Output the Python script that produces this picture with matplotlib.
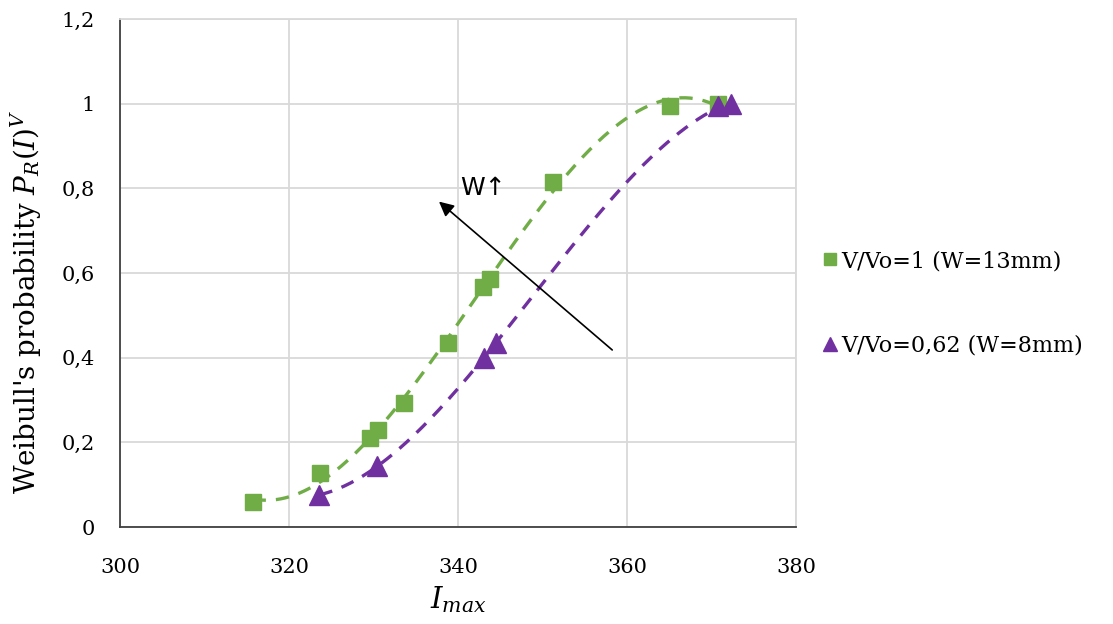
import numpy as np
import matplotlib
matplotlib.use("Agg")
import matplotlib.pyplot as plt
from matplotlib.ticker import FuncFormatter

# data
x_w13 = [315.7, 323.7, 329.6, 330.5, 333.6, 338.8, 343.0, 343.8, 351.2, 365.1, 370.8]
y_w13 = [0.059, 0.128, 0.21, 0.229, 0.293, 0.435, 0.567, 0.586, 0.816, 0.995, 1.0]

x_w8 = [323.6, 330.4, 343.1, 344.5, 370.8, 372.3]
y_w8 = [0.075, 0.145, 0.40, 0.435, 0.995, 1.0]

lab_w13 = "V/Vo=1 (W=13mm)"
lab_w8 = "V/Vo=0,62 (W=8mm)"

green = "#70AD47"
purple = "#7030A0"

plt.rcParams['font.family'] = ['DejaVu Serif']
plt.rcParams['mathtext.fontset'] = 'dejavuserif'

fig = plt.figure(figsize=(11.13, 6.24), dpi=100)
ax = fig.add_axes([0.1078, 0.1554, 0.6074, 0.8141])

# polynomial trendlines (like excel)
for xs, ys, c in [(x_w13, y_w13, green), (x_w8, y_w8, purple)]:
    p = np.polyfit(xs, ys, 3)
    xx = np.linspace(min(xs), max(xs), 200)
    ax.plot(xx, np.polyval(p, xx), '--', color=c, lw=2.4, dashes=(4, 3), zorder=2)

ax.plot(x_w13, y_w13, 's', color=green, ms=12, zorder=3)
ax.plot(x_w8, y_w8, '^', color=purple, ms=15, zorder=4)

ax.set_xlim(300, 380)
ax.set_ylim(0, 1.2)
ax.set_xticks([300, 320, 340, 360, 380])
ax.set_yticks([0, 0.2, 0.4, 0.6, 0.8, 1.0, 1.2])
ax.yaxis.set_major_formatter(FuncFormatter(lambda v, pos: ('%g' % round(v, 1)).replace('.', ',')))
ax.grid(True, color='#d9d9d9', lw=1.3)
ax.set_axisbelow(True)
ax.tick_params(length=0, labelsize=15)
ax.tick_params(axis='x', pad=22)
ax.tick_params(axis='y', pad=18)
for s in ['top', 'right']:
    ax.spines[s].set_color('#d9d9d9')
    ax.spines[s].set_linewidth(1.3)
for s in ['left', 'bottom']:
    ax.spines[s].set_color('#404040')
    ax.spines[s].set_linewidth(1.3)

ax.set_xlabel(r'$I_{max}$', fontsize=21)
ax.xaxis.set_label_coords(0.5, -0.112)
ax.set_ylabel(r"Weibull's probability $P_R(I)^V$", fontsize=20)
ax.yaxis.set_label_coords(-0.113, 0.443)

# arrow + label
ax.annotate('', xy=(337.5, 0.773), xytext=(358.5, 0.414),
            arrowprops=dict(arrowstyle='-|>', color='black', lw=1.2, mutation_scale=22))
ax.text(340.3, 0.80, 'W\u2191', fontsize=18, family=['DejaVu Sans'],
        ha='left', va='center')

h1 = plt.Line2D([], [], marker='s', color=green, ls='none', ms=9)
h2 = plt.Line2D([], [], marker='^', color=purple, ls='none', ms=10)
fig.legend([h1, h2], [lab_w13, lab_w8], loc='center left', bbox_to_anchor=(0.72, 0.514),
           frameon=False, fontsize=16, handletextpad=0.1, handlelength=0.8,
           labelspacing=2.8)

fig.savefig('out.png', dpi=100)
